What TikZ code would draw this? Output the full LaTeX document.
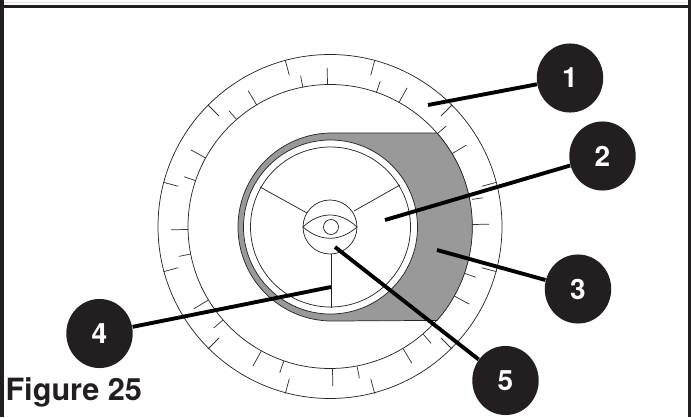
\documentclass[tikz,border=0pt]{standalone}
\usepackage{fontspec}
\setmainfont{TeX Gyre Heros}
\usetikzlibrary{shapes.geometric}
\definecolor{inkblack}{HTML}{231F20}
\definecolor{bandgray}{HTML}{999999}
\tikzset{every picture/.style={line width=0.75pt}}
\tikzset{
  thinline/.style={line width=0.55pt,draw=black!85},
  tick/.style={line width=0.55pt,draw=black!80},
  leader/.style={line width=2.9pt,draw=black},
  badge/.style={ellipse,fill=inkblack,draw=none,inner sep=0pt,minimum width=49.8pt,minimum height=51.8pt,text=white,font=\fontsize{21}{21}\selectfont\bfseries}
}

\begin{document}
\begin{tikzpicture}[x=0.75pt,y=0.75pt,yscale=-1,xscale=1]
\useasboundingbox (0,0) rectangle (691,417);

%Frame
\fill [inkblack] (0,0) rectangle (4,417) ;
\fill [inkblack] (688,0) rectangle (691,417) ;
\fill [inkblack] (0,5) rectangle (691,8.5) ;
\draw [line width=0.6pt,black!12]  (4,2.5) -- (687,2.5) ;

%Dial circles
\draw [thinline]  (330,226.5) circle [radius=172] ;
\draw [thinline]  (330,226.5) circle [radius=142] ;

%Outer ticks
\draw [tick]  (481.7,186.3) -- (496.6,182.3) ;
\draw [tick]  (441,116) -- (452,105) ;
\draw [tick]  (370.7,75.3) -- (374.7,60.4) ;
\draw [tick]  (289.3,75.3) -- (285.3,60.4) ;
\draw [tick]  (219,116) -- (208,105) ;
\draw [tick]  (178.3,186.3) -- (163.4,182.3) ;
\draw [tick]  (178.3,267.7) -- (163.4,271.7) ;
\draw [tick]  (219,338) -- (208,349) ;
\draw [tick]  (289.3,378.7) -- (285.3,393.6) ;
\draw [tick]  (370.7,378.7) -- (374.7,393.6) ;
\draw [tick]  (441,338) -- (452,349) ;
\draw [tick]  (481.7,267.7) -- (496.6,271.7) ;

%Long inner ticks
\draw [tick]  (472,224.5) -- (489,224.2) ;
\draw [tick]  (451.7,153.9) -- (466.3,145.1) ;
\draw [tick]  (398.8,102.8) -- (407.1,87.9) ;
\draw [tick]  (327.5,85) -- (327.2,68) ;
\draw [tick]  (256.9,105.3) -- (248.1,90.7) ;
\draw [tick]  (205.8,158.1) -- (190.9,149.9) ;
\draw [tick]  (188,229.5) -- (171,229.8) ;
\draw [tick]  (208.3,300.1) -- (193.7,308.9) ;
\draw [tick]  (261.2,351.2) -- (252.9,366.1) ;
\draw [tick]  (332.5,369) -- (332.8,386) ;
\draw [tick]  (403.1,348.7) -- (411.9,363.3) ;
\draw [tick]  (454.2,295.9) -- (469.1,304.1) ;

%Short inner ticks
\draw [tick]  (472,199.4) -- (482.7,197.8) ;
\draw [tick]  (437.2,133.8) -- (446.3,126) ;
\draw [tick]  (376.3,92.7) -- (380.2,81.3) ;
\draw [tick]  (302.9,87.6) -- (300.6,75.8) ;
\draw [tick]  (236.8,119.8) -- (229,110.7) ;
\draw [tick]  (195.7,180.7) -- (184.3,176.8) ;
\draw [tick]  (190.6,254.1) -- (178.8,256.4) ;
\draw [tick]  (222.8,320.2) -- (213.7,328) ;
\draw [tick]  (283.7,361.3) -- (279.8,372.7) ;
\draw [tick]  (357.1,366.4) -- (359.4,378.2) ;
\draw [tick]  (423.2,334.2) -- (431,343.3) ;
\draw [tick]  (464.3,273.3) -- (475.7,277.2) ;

%Gray band
\draw [thinline,fill=bandgray]  (332,133) -- (437,133) arc [start angle=-41.3,end angle=41.3,radius=142] -- (332,321) arc [start angle=90,end angle=270,radius=94] -- cycle ;

%Wheel
\draw [thinline,fill=white]  (330.5,227) circle [radius=87] ;
\draw [thinline]  (330.5,227) circle [radius=80] ;
\draw [thinline]  (260,187) -- (307,213) ;
\draw [thinline]  (400,185) -- (354,211) ;
\draw [thinline]  (331,254) -- (331,308) ;

%Hub and eye
\draw [thinline,fill=white]  (330,227) circle [radius=27] ;
\draw [thinline]  (303,227) .. controls (320,211) and (340,211) .. (357,227) ;
\draw [thinline]  (303,227) .. controls (320,242) and (340,242) .. (357,227) ;
\draw [thinline]  (331,227) circle [radius=7.5] ;

% Leader ends
\coordinate (tip1) at (428,105);
\coordinate (tip2) at (385,220);
\coordinate (tip3) at (437,250);
\coordinate (tip4) at (331,287);
\coordinate (tip5) at (335,247);

% Text Node
\draw (570,78) node [badge] (badge1) {1};
% Text Node
\draw (602.5,156) node [badge] (badge2) {2};
% Text Node
\draw (578,289) node [badge] (badge3) {3};
% Text Node
\draw (99.5,333.5) node [badge] (badge4) {4};
% Text Node
\draw (505.5,380.5) node [badge] (badge5) {5};
% Text Node
\draw (5,400) node [anchor=base west,inner sep=0pt,text=inkblack,font=\fontsize{23}{23}\selectfont\bfseries] (figlabel) {Figure 25};

%Leaders
\draw [leader]  (tip1) -- (badge1) ;
\draw [leader]  (tip2) -- (badge2) ;
\draw [leader]  (tip3) -- (badge3) ;
\draw [leader]  (tip4) -- (badge4) ;
\draw [leader]  (tip5) -- (badge5) ;

\end{tikzpicture}
\end{document}
